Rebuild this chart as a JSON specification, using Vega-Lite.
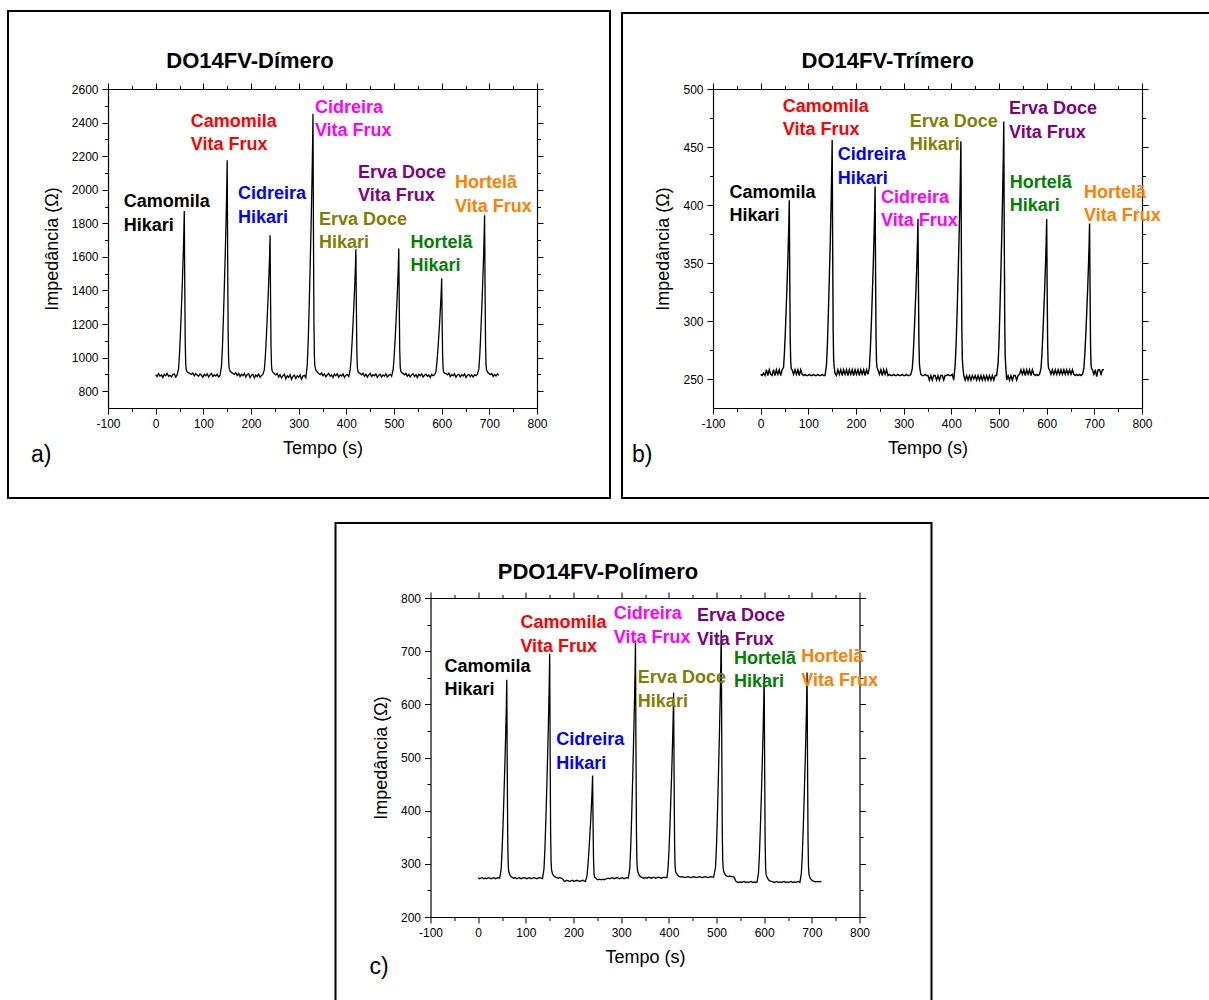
{
"$schema": "https://vega.github.io/schema/vega-lite/v6.json",
"padding": {"left": 7, "top": 9, "right": 0, "bottom": 0},
"background": "white",
"spacing": 22,
"center": true,
"config": {
  "view": {"stroke": null},
  "axis": {"labelFont": "Liberation Sans", "titleFont": "Liberation Sans", "labelFontSize": 12, "titleFontSize": 18, "titleFontWeight": "normal", "labelColor": "black", "titleColor": "black", "tickColor": "black", "domainColor": "black", "grid": false, "labelFlush": false, "labelOverlap": false, "tickWidth": 1, "domainWidth": 1.2}
},
"datasets": {
"pa": [
{"t":0,"z":898},{"t":3,"z":887},{"t":6,"z":905},{"t":9,"z":890},{"t":12,"z":897},{"t":15,"z":882},{"t":18,"z":901},{"t":21,"z":892},{"t":24,"z":906},{"t":27,"z":889},{"t":30,"z":895},{"t":33,"z":885},{"t":36,"z":900},{"t":39,"z":903},{"t":42,"z":884},{"t":45,"z":897},
{"t":48,"z":934},{"t":50,"z":1022},{"t":52,"z":1149},{"t":54,"z":1296},{"t":56,"z":1452},{"t":58,"z":1629},{"t":59,"z":1736},{"t":60,"z":1873},{"t":61,"z":1433},{"t":62,"z":1091},{"t":63,"z":963},{"t":64,"z":929},
{"t":66,"z":915},{"t":69,"z":910},{"t":72,"z":905},{"t":75,"z":900},{"t":78,"z":908},{"t":81,"z":892},{"t":84,"z":905},{"t":87,"z":897},{"t":90,"z":889},{"t":93,"z":903},{"t":96,"z":895},{"t":99,"z":883},{"t":102,"z":901},{"t":105,"z":892},{"t":108,"z":904},{"t":111,"z":885},{"t":114,"z":897},{"t":117,"z":906},{"t":120,"z":887},{"t":123,"z":898},{"t":126,"z":890},{"t":129,"z":901},{"t":132,"z":884},{"t":135,"z":895},
{"t":138,"z":946},{"t":140,"z":1061},{"t":142,"z":1228},{"t":144,"z":1420},{"t":146,"z":1625},{"t":148,"z":1855},{"t":149,"z":1996},{"t":150,"z":2175},{"t":151,"z":1599},{"t":152,"z":1151},{"t":153,"z":985},{"t":154,"z":940},
{"t":156,"z":920},{"t":159,"z":912},{"t":162,"z":906},{"t":165,"z":900},{"t":168,"z":910},{"t":171,"z":894},{"t":174,"z":906},{"t":177,"z":887},{"t":180,"z":901},{"t":183,"z":892},{"t":186,"z":907},{"t":189,"z":884},{"t":192,"z":898},{"t":195,"z":904},{"t":198,"z":881},{"t":201,"z":895},{"t":204,"z":901},{"t":207,"z":879},{"t":210,"z":897},{"t":213,"z":887},{"t":216,"z":903},{"t":219,"z":883},{"t":222,"z":894},{"t":225,"z":900},
{"t":228,"z":928},{"t":230,"z":1003},{"t":232,"z":1112},{"t":234,"z":1237},{"t":236,"z":1370},{"t":238,"z":1521},{"t":239,"z":1612},{"t":240,"z":1729},{"t":241,"z":1354},{"t":242,"z":1062},{"t":243,"z":953},{"t":244,"z":924},
{"t":246,"z":912},{"t":249,"z":905},{"t":252,"z":897},{"t":255,"z":906},{"t":258,"z":884},{"t":261,"z":898},{"t":264,"z":879},{"t":267,"z":892},{"t":270,"z":901},{"t":273,"z":873},{"t":276,"z":892},{"t":279,"z":882},{"t":282,"z":898},{"t":285,"z":870},{"t":288,"z":889},{"t":291,"z":895},{"t":294,"z":876},{"t":297,"z":892},{"t":300,"z":883},{"t":303,"z":897},{"t":306,"z":871},{"t":309,"z":890},{"t":312,"z":894},{"t":315,"z":880},
{"t":318,"z":957},{"t":320,"z":1098},{"t":322,"z":1300},{"t":324,"z":1534},{"t":326,"z":1783},{"t":328,"z":2064},{"t":329,"z":2235},{"t":330,"z":2453},{"t":331,"z":1752},{"t":332,"z":1207},{"t":333,"z":1004},{"t":334,"z":950},
{"t":336,"z":926},{"t":339,"z":914},{"t":342,"z":905},{"t":345,"z":899},{"t":348,"z":909},{"t":351,"z":892},{"t":354,"z":903},{"t":357,"z":886},{"t":360,"z":898},{"t":363,"z":906},{"t":366,"z":889},{"t":369,"z":897},{"t":372,"z":881},{"t":375,"z":901},{"t":378,"z":892},{"t":381,"z":904},{"t":384,"z":884},{"t":387,"z":897},{"t":390,"z":890},{"t":393,"z":903},{"t":396,"z":882},{"t":399,"z":895},{"t":402,"z":900},{"t":405,"z":887},
{"t":408,"z":925},{"t":410,"z":993},{"t":412,"z":1090},{"t":414,"z":1203},{"t":416,"z":1323},{"t":418,"z":1458},{"t":419,"z":1540},{"t":420,"z":1645},{"t":421,"z":1308},{"t":422,"z":1045},{"t":423,"z":948},{"t":424,"z":921},
{"t":426,"z":910},{"t":429,"z":905},{"t":432,"z":898},{"t":435,"z":907},{"t":438,"z":889},{"t":441,"z":901},{"t":444,"z":884},{"t":447,"z":897},{"t":450,"z":906},{"t":453,"z":887},{"t":456,"z":898},{"t":459,"z":892},{"t":462,"z":903},{"t":465,"z":882},{"t":468,"z":895},{"t":471,"z":901},{"t":474,"z":885},{"t":477,"z":897},{"t":480,"z":890},{"t":483,"z":903},{"t":486,"z":884},{"t":489,"z":895},{"t":492,"z":900},{"t":495,"z":889},
{"t":498,"z":925},{"t":500,"z":993},{"t":502,"z":1091},{"t":504,"z":1205},{"t":506,"z":1325},{"t":508,"z":1461},{"t":509,"z":1544},{"t":510,"z":1650},{"t":511,"z":1310},{"t":512,"z":1046},{"t":513,"z":948},{"t":514,"z":921},
{"t":516,"z":910},{"t":519,"z":906},{"t":522,"z":898},{"t":525,"z":906},{"t":528,"z":889},{"t":531,"z":900},{"t":534,"z":885},{"t":537,"z":897},{"t":540,"z":904},{"t":543,"z":887},{"t":546,"z":898},{"t":549,"z":881},{"t":552,"z":901},{"t":555,"z":892},{"t":558,"z":903},{"t":561,"z":884},{"t":564,"z":895},{"t":567,"z":901},{"t":570,"z":889},{"t":573,"z":897},{"t":576,"z":882},{"t":579,"z":900},{"t":582,"z":892},{"t":585,"z":897},
{"t":588,"z":918},{"t":590,"z":970},{"t":592,"z":1045},{"t":594,"z":1132},{"t":596,"z":1224},{"t":598,"z":1329},{"t":599,"z":1392},{"t":600,"z":1473},{"t":601,"z":1213},{"t":602,"z":1011},{"t":603,"z":935},{"t":604,"z":915},
{"t":606,"z":908},{"t":609,"z":905},{"t":612,"z":898},{"t":615,"z":907},{"t":618,"z":887},{"t":621,"z":900},{"t":624,"z":892},{"t":627,"z":904},{"t":630,"z":883},{"t":633,"z":897},{"t":636,"z":901},{"t":639,"z":885},{"t":642,"z":898},{"t":645,"z":890},{"t":648,"z":903},{"t":651,"z":881},{"t":654,"z":895},{"t":657,"z":900},{"t":660,"z":887},{"t":663,"z":897},{"t":666,"z":884},{"t":669,"z":898},{"t":672,"z":892},{"t":675,"z":901},
{"t":678,"z":933},{"t":680,"z":1019},{"t":682,"z":1143},{"t":684,"z":1286},{"t":686,"z":1438},{"t":688,"z":1610},{"t":689,"z":1715},{"t":690,"z":1848},{"t":691,"z":1419},{"t":692,"z":1086},{"t":693,"z":962},{"t":694,"z":928},
{"t":696,"z":914},{"t":699,"z":906},{"t":702,"z":899},{"t":705,"z":906},{"t":708,"z":888},{"t":711,"z":900},{"t":714,"z":891},{"t":717,"z":903},{"t":720,"z":895}
],
"pb": [
{"t":0,"z":254},{"t":3,"z":253},{"t":6,"z":255},{"t":9,"z":253},{"t":12,"z":258},{"t":15,"z":253},{"t":18,"z":258},{"t":21,"z":254},{"t":24,"z":253},{"t":27,"z":258},{"t":30,"z":253},{"t":33,"z":258},{"t":36,"z":254},{"t":39,"z":258},{"t":42,"z":253},{"t":45,"z":258},
{"t":48,"z":260},{"t":50,"z":274},{"t":52,"z":293},{"t":54,"z":316},{"t":56,"z":340},{"t":58,"z":367},{"t":59,"z":383},{"t":60,"z":404},{"t":61,"z":337},{"t":62,"z":284},{"t":63,"z":265},{"t":64,"z":259},
{"t":66,"z":258},{"t":69,"z":254},{"t":72,"z":258},{"t":75,"z":254},{"t":78,"z":258},{"t":81,"z":253},{"t":84,"z":258},{"t":87,"z":254},{"t":90,"z":253},{"t":93,"z":254},{"t":96,"z":253},{"t":99,"z":253},{"t":102,"z":254},{"t":105,"z":253},{"t":108,"z":253},{"t":111,"z":254},{"t":114,"z":253},{"t":117,"z":253},{"t":120,"z":254},{"t":123,"z":253},{"t":126,"z":253},{"t":129,"z":254},{"t":132,"z":253},{"t":135,"z":253},
{"t":138,"z":262},{"t":140,"z":280},{"t":142,"z":307},{"t":144,"z":337},{"t":146,"z":369},{"t":148,"z":406},{"t":149,"z":428},{"t":150,"z":456},{"t":151,"z":365},{"t":152,"z":294},{"t":153,"z":268},{"t":154,"z":261},
{"t":156,"z":255},{"t":159,"z":253},{"t":162,"z":258},{"t":165,"z":254},{"t":168,"z":258},{"t":171,"z":253},{"t":174,"z":258},{"t":177,"z":254},{"t":180,"z":258},{"t":183,"z":253},{"t":186,"z":258},{"t":189,"z":254},{"t":192,"z":258},{"t":195,"z":253},{"t":198,"z":258},{"t":201,"z":254},{"t":204,"z":258},{"t":207,"z":253},{"t":210,"z":258},{"t":213,"z":254},{"t":216,"z":258},{"t":219,"z":253},{"t":222,"z":258},{"t":225,"z":254},
{"t":228,"z":260},{"t":230,"z":275},{"t":232,"z":296},{"t":234,"z":320},{"t":236,"z":346},{"t":238,"z":376},{"t":239,"z":393},{"t":240,"z":416},{"t":241,"z":343},{"t":242,"z":286},{"t":243,"z":265},{"t":244,"z":260},
{"t":246,"z":258},{"t":249,"z":254},{"t":252,"z":258},{"t":255,"z":253},{"t":258,"z":258},{"t":261,"z":254},{"t":264,"z":258},{"t":267,"z":253},{"t":270,"z":254},{"t":273,"z":253},{"t":276,"z":253},{"t":279,"z":254},{"t":282,"z":253},{"t":285,"z":253},{"t":288,"z":254},{"t":291,"z":253},{"t":294,"z":253},{"t":297,"z":254},{"t":300,"z":253},{"t":303,"z":253},{"t":306,"z":254},{"t":309,"z":253},{"t":312,"z":253},{"t":315,"z":254},
{"t":318,"z":259},{"t":320,"z":271},{"t":322,"z":289},{"t":324,"z":309},{"t":326,"z":330},{"t":328,"z":354},{"t":329,"z":369},{"t":330,"z":388},{"t":331,"z":328},{"t":332,"z":281},{"t":333,"z":263},{"t":334,"z":259},
{"t":336,"z":254},{"t":339,"z":253},{"t":342,"z":253},{"t":345,"z":254},{"t":348,"z":253},{"t":351,"z":253},{"t":354,"z":249},{"t":357,"z":253},{"t":360,"z":249},{"t":363,"z":253},{"t":366,"z":253},{"t":369,"z":249},{"t":372,"z":253},{"t":375,"z":249},{"t":378,"z":253},{"t":381,"z":253},{"t":384,"z":249},{"t":387,"z":253},{"t":390,"z":253},{"t":393,"z":254},{"t":396,"z":253},{"t":399,"z":253},{"t":402,"z":254},{"t":405,"z":249},
{"t":408,"z":262},{"t":410,"z":280},{"t":412,"z":306},{"t":414,"z":336},{"t":416,"z":369},{"t":418,"z":405},{"t":419,"z":427},{"t":420,"z":455},{"t":421,"z":365},{"t":422,"z":294},{"t":423,"z":268},{"t":424,"z":261},
{"t":426,"z":253},{"t":429,"z":249},{"t":432,"z":253},{"t":435,"z":249},{"t":438,"z":253},{"t":441,"z":249},{"t":444,"z":253},{"t":447,"z":250},{"t":450,"z":253},{"t":453,"z":249},{"t":456,"z":253},{"t":459,"z":249},{"t":462,"z":253},{"t":465,"z":249},{"t":468,"z":253},{"t":471,"z":249},{"t":474,"z":253},{"t":477,"z":249},{"t":480,"z":253},{"t":483,"z":249},{"t":486,"z":253},{"t":489,"z":249},{"t":492,"z":253},{"t":495,"z":253},
{"t":498,"z":263},{"t":500,"z":282},{"t":502,"z":311},{"t":504,"z":343},{"t":506,"z":378},{"t":508,"z":418},{"t":509,"z":441},{"t":510,"z":472},{"t":511,"z":374},{"t":512,"z":298},{"t":513,"z":269},{"t":514,"z":262},
{"t":516,"z":249},{"t":519,"z":253},{"t":522,"z":249},{"t":525,"z":253},{"t":528,"z":249},{"t":531,"z":253},{"t":534,"z":253},{"t":537,"z":249},{"t":540,"z":253},{"t":543,"z":254},{"t":546,"z":258},{"t":549,"z":254},{"t":552,"z":258},{"t":555,"z":253},{"t":558,"z":258},{"t":561,"z":254},{"t":564,"z":258},{"t":567,"z":253},{"t":570,"z":258},{"t":573,"z":254},{"t":576,"z":253},{"t":579,"z":254},{"t":582,"z":253},{"t":585,"z":254},
{"t":588,"z":259},{"t":590,"z":271},{"t":592,"z":289},{"t":594,"z":309},{"t":596,"z":330},{"t":598,"z":354},{"t":599,"z":369},{"t":600,"z":388},{"t":601,"z":328},{"t":602,"z":281},{"t":603,"z":263},{"t":604,"z":259},
{"t":606,"z":258},{"t":609,"z":254},{"t":612,"z":258},{"t":615,"z":254},{"t":618,"z":258},{"t":621,"z":254},{"t":624,"z":258},{"t":627,"z":254},{"t":630,"z":258},{"t":633,"z":254},{"t":636,"z":258},{"t":639,"z":254},{"t":642,"z":258},{"t":645,"z":254},{"t":648,"z":258},{"t":651,"z":254},{"t":654,"z":258},{"t":657,"z":254},{"t":660,"z":253},{"t":663,"z":254},{"t":666,"z":253},{"t":669,"z":254},{"t":672,"z":253},{"t":675,"z":254},
{"t":678,"z":259},{"t":680,"z":271},{"t":682,"z":288},{"t":684,"z":307},{"t":686,"z":328},{"t":688,"z":352},{"t":689,"z":366},{"t":690,"z":384},{"t":691,"z":326},{"t":692,"z":280},{"t":693,"z":263},{"t":694,"z":259},
{"t":696,"z":258},{"t":699,"z":254},{"t":702,"z":258},{"t":705,"z":252},{"t":708,"z":258},{"t":711,"z":258},{"t":714,"z":254},{"t":717,"z":258},{"t":720,"z":258}
],
"pc": [
{"t":0,"z":274},{"t":3,"z":272},{"t":6,"z":273},{"t":9,"z":274},{"t":12,"z":272},{"t":15,"z":273},{"t":18,"z":272},{"t":21,"z":274},{"t":24,"z":273},{"t":27,"z":272},{"t":30,"z":273},{"t":33,"z":274},{"t":36,"z":272},{"t":39,"z":273},{"t":42,"z":274},{"t":45,"z":273},
{"t":48,"z":288},{"t":50,"z":322},{"t":52,"z":370},{"t":54,"z":426},{"t":56,"z":486},{"t":58,"z":553},{"t":59,"z":594},{"t":60,"z":646},{"t":61,"z":478},{"t":62,"z":348},{"t":63,"z":299},{"t":64,"z":286},
{"t":66,"z":280},{"t":69,"z":276},{"t":72,"z":274},{"t":75,"z":273},{"t":78,"z":274},{"t":81,"z":272},{"t":84,"z":273},{"t":87,"z":274},{"t":90,"z":272},{"t":93,"z":273},{"t":96,"z":274},{"t":99,"z":273},{"t":102,"z":272},{"t":105,"z":273},{"t":108,"z":274},{"t":111,"z":272},{"t":114,"z":273},{"t":117,"z":274},{"t":120,"z":273},{"t":123,"z":272},{"t":126,"z":273},{"t":129,"z":274},{"t":132,"z":273},{"t":135,"z":272},
{"t":138,"z":290},{"t":140,"z":328},{"t":142,"z":383},{"t":144,"z":446},{"t":146,"z":514},{"t":148,"z":590},{"t":149,"z":636},{"t":150,"z":695},{"t":151,"z":505},{"t":152,"z":357},{"t":153,"z":303},{"t":154,"z":288},
{"t":156,"z":281},{"t":159,"z":277},{"t":162,"z":275},{"t":165,"z":274},{"t":168,"z":273},{"t":171,"z":274},{"t":174,"z":273},{"t":177,"z":272},{"t":180,"z":268},{"t":183,"z":267},{"t":186,"z":269},{"t":189,"z":268},{"t":192,"z":267},{"t":195,"z":268},{"t":198,"z":269},{"t":201,"z":267},{"t":204,"z":268},{"t":207,"z":269},{"t":210,"z":268},{"t":213,"z":267},{"t":216,"z":268},{"t":219,"z":269},{"t":222,"z":268},{"t":225,"z":267},
{"t":228,"z":276},{"t":230,"z":294},{"t":232,"z":320},{"t":234,"z":349},{"t":236,"z":381},{"t":238,"z":417},{"t":239,"z":438},{"t":240,"z":466},{"t":241,"z":377},{"t":242,"z":308},{"t":243,"z":282},{"t":244,"z":275},
{"t":246,"z":274},{"t":249,"z":271},{"t":252,"z":270},{"t":255,"z":271},{"t":258,"z":270},{"t":261,"z":271},{"t":264,"z":270},{"t":267,"z":271},{"t":270,"z":272},{"t":273,"z":273},{"t":276,"z":272},{"t":279,"z":273},{"t":282,"z":274},{"t":285,"z":272},{"t":288,"z":273},{"t":291,"z":274},{"t":294,"z":273},{"t":297,"z":272},{"t":300,"z":273},{"t":303,"z":274},{"t":306,"z":272},{"t":309,"z":273},{"t":312,"z":274},{"t":315,"z":273},
{"t":318,"z":291},{"t":320,"z":331},{"t":322,"z":389},{"t":324,"z":456},{"t":326,"z":528},{"t":328,"z":608},{"t":329,"z":657},{"t":330,"z":720},{"t":331,"z":519},{"t":332,"z":362},{"t":333,"z":304},{"t":334,"z":289},
{"t":336,"z":282},{"t":339,"z":277},{"t":342,"z":275},{"t":345,"z":274},{"t":348,"z":273},{"t":351,"z":274},{"t":354,"z":273},{"t":357,"z":275},{"t":360,"z":274},{"t":363,"z":273},{"t":366,"z":274},{"t":369,"z":275},{"t":372,"z":273},{"t":375,"z":274},{"t":378,"z":275},{"t":381,"z":274},{"t":384,"z":273},{"t":387,"z":274},{"t":390,"z":275},{"t":393,"z":274},{"t":396,"z":274},
{"t":398,"z":288},{"t":400,"z":319},{"t":402,"z":364},{"t":404,"z":417},{"t":406,"z":472},{"t":408,"z":535},{"t":409,"z":573},{"t":410,"z":622},{"t":411,"z":465},{"t":412,"z":344},{"t":413,"z":298},{"t":414,"z":286},
{"t":416,"z":282},{"t":419,"z":278},{"t":422,"z":276},{"t":425,"z":275},{"t":428,"z":276},{"t":431,"z":275},{"t":434,"z":274},{"t":437,"z":275},{"t":440,"z":276},{"t":443,"z":275},{"t":446,"z":274},{"t":449,"z":275},{"t":452,"z":276},{"t":455,"z":275},{"t":458,"z":274},{"t":461,"z":275},{"t":464,"z":276},{"t":467,"z":275},{"t":470,"z":274},{"t":473,"z":275},{"t":476,"z":276},{"t":479,"z":275},{"t":482,"z":274},{"t":485,"z":275},{"t":488,"z":276},{"t":491,"z":275},{"t":494,"z":275},
{"t":498,"z":294},{"t":500,"z":335},{"t":502,"z":396},{"t":504,"z":466},{"t":506,"z":540},{"t":508,"z":624},{"t":509,"z":675},{"t":510,"z":740},{"t":511,"z":531},{"t":512,"z":368},{"t":513,"z":308},{"t":514,"z":291},
{"t":516,"z":283},{"t":519,"z":279},{"t":522,"z":277},{"t":525,"z":276},{"t":528,"z":277},{"t":531,"z":276},{"t":534,"z":276},{"t":537,"z":275},{"t":540,"z":268},{"t":543,"z":266},{"t":546,"z":265},{"t":549,"z":266},{"t":552,"z":265},{"t":555,"z":266},{"t":558,"z":267},{"t":561,"z":265},{"t":564,"z":266},{"t":567,"z":265},{"t":570,"z":266},{"t":573,"z":267},{"t":576,"z":265},{"t":579,"z":266},{"t":582,"z":265},{"t":585,"z":266},
{"t":588,"z":282},{"t":590,"z":317},{"t":592,"z":368},{"t":594,"z":426},{"t":596,"z":489},{"t":598,"z":559},{"t":599,"z":602},{"t":600,"z":657},{"t":601,"z":481},{"t":602,"z":344},{"t":603,"z":293},{"t":604,"z":280},
{"t":606,"z":275},{"t":609,"z":270},{"t":612,"z":268},{"t":615,"z":267},{"t":618,"z":266},{"t":621,"z":265},{"t":624,"z":266},{"t":627,"z":267},{"t":630,"z":265},{"t":633,"z":266},{"t":636,"z":265},{"t":639,"z":266},{"t":642,"z":267},{"t":645,"z":265},{"t":648,"z":266},{"t":651,"z":265},{"t":654,"z":266},{"t":657,"z":267},{"t":660,"z":265},{"t":663,"z":266},{"t":666,"z":265},{"t":669,"z":266},{"t":672,"z":267},{"t":675,"z":265},
{"t":678,"z":282},{"t":680,"z":317},{"t":682,"z":368},{"t":684,"z":428},{"t":686,"z":491},{"t":688,"z":562},{"t":689,"z":605},{"t":690,"z":660},{"t":691,"z":483},{"t":692,"z":345},{"t":693,"z":294},{"t":694,"z":280},
{"t":696,"z":274},{"t":699,"z":270},{"t":702,"z":268},{"t":705,"z":267},{"t":708,"z":266},{"t":711,"z":267},{"t":714,"z":266},{"t":717,"z":267},{"t":720,"z":266}
],
"na": [
{"s":"Camomila Hikari","l":"Camomila\nHikari","x":-67,"y":1897},
{"s":"Camomila Vita Frux","l":"Camomila\nVita Frux","x":73.5,"y":2374},
{"s":"Cidreira Hikari","l":"Cidreira\nHikari","x":172.7,"y":1943},
{"s":"Cidreira Vita Frux","l":"Cidreira\nVita Frux","x":334,"y":2459},
{"s":"Erva Doce Hikari","l":"Erva Doce\nHikari","x":342.6,"y":1790},
{"s":"Erva Doce Vita Frux","l":"Erva Doce\nVita Frux","x":424.5,"y":2072},
{"s":"Hortelã Hikari","l":"Hortelã\nHikari","x":534.6,"y":1655},
{"s":"Hortelã Vita Frux","l":"Hortelã\nVita Frux","x":628,"y":2009}
],
"nb": [
{"s":"Camomila Hikari","l":"Camomila\nHikari","x":-65.6,"y":406.3},
{"s":"Camomila Vita Frux","l":"Camomila\nVita Frux","x":46.4,"y":480.2},
{"s":"Cidreira Hikari","l":"Cidreira\nHikari","x":161.6,"y":438.5},
{"s":"Cidreira Vita Frux","l":"Cidreira\nVita Frux","x":252.4,"y":402},
{"s":"Erva Doce Hikari","l":"Erva Doce\nHikari","x":312.6,"y":467.5},
{"s":"Erva Doce Vita Frux","l":"Erva Doce\nVita Frux","x":521,"y":478.2},
{"s":"Hortelã Hikari","l":"Hortelã\nHikari","x":522.4,"y":414.9},
{"s":"Hortelã Vita Frux","l":"Hortelã\nVita Frux","x":678.3,"y":406.3}
],
"nc": [
{"s":"Camomila Hikari","l":"Camomila\nHikari","x":-70.6,"y":661.4},
{"s":"Camomila Vita Frux","l":"Camomila\nVita Frux","x":88.6,"y":743},
{"s":"Cidreira Hikari","l":"Cidreira\nHikari","x":163.7,"y":523.5},
{"s":"Cidreira Vita Frux","l":"Cidreira\nVita Frux","x":284.5,"y":760},
{"s":"Erva Doce Hikari","l":"Erva Doce\nHikari","x":335,"y":639.6},
{"s":"Erva Doce Vita Frux","l":"Erva Doce\nVita Frux","x":459,"y":756.7},
{"s":"Hortelã Hikari","l":"Hortelã\nHikari","x":536.7,"y":675.9},
{"s":"Hortelã Vita Frux","l":"Hortelã\nVita Frux","x":677.8,"y":679}
]
},
"vconcat": [
{"spacing": 10, "hconcat": [
{
"width": 429, "height": 319,
"resolve": {"axis": {"x": "independent", "y": "independent"}},
"layer": [
{"data": {"values": [{}]}, "mark": {"type": "rect", "filled": false, "stroke": "black", "strokeWidth": 2},
 "encoding": {
  "x": {"datum": -309.8, "type": "quantitative", "scale": {"domain": [-100, 800], "nice": false, "zero": false}, "axis": {"orient": "top", "values": [-100,0,100,200,300,400,500,600,700,800], "tickSize": 6, "labels": false, "title": null}},
  "x2": {"datum": 953.1},
  "y": {"datum": 3064.6, "type": "quantitative", "scale": {"domain": [700, 2600], "nice": false, "zero": false}, "axis": {"orient": "right", "values": [800,1000,1200,1400,1600,1800,2000,2200,2400,2600], "tickSize": 6, "labels": false, "title": null}},
  "y2": {"datum": 164}
 }},
{"data": {"name": "pa"}, "mark": {"type": "line", "color": "black", "strokeWidth": 1.3},
 "encoding": {
  "x": {"field": "t", "type": "quantitative", "scale": {"domain": [-100, 800], "nice": false, "zero": false}, "axis": {"orient": "bottom", "values": [-100,0,100,200,300,400,500,600,700,800], "tickSize": 6, "labelPadding": 4, "labelExpr": "'' + datum.value", "title": "Tempo (s)", "titlePadding": 10}},
  "y": {"field": "z", "type": "quantitative", "scale": {"domain": [700, 2600], "nice": false, "zero": false}, "axis": {"orient": "left", "values": [800,1000,1200,1400,1600,1800,2000,2200,2400,2600], "tickSize": 6, "labelPadding": 4, "labelExpr": "'' + datum.value", "title": "Impedância (Ω)", "titlePadding": 10}}
 }},
{"data": {"name": "na"}, "mark": {"type": "text", "align": "left", "baseline": "alphabetic", "font": "Liberation Sans", "fontSize": 18, "fontWeight": "bold", "lineBreak": "\n", "lineHeight": 23.5},
 "encoding": {
  "x": {"field": "x", "type": "quantitative", "scale": {"domain": [-100, 800], "nice": false, "zero": false}, "axis": {"orient": "bottom", "values": [-50,50,150,250,350,450,550,650,750], "tickSize": 3.5, "labels": false, "domain": false, "title": null}},
  "y": {"field": "y", "type": "quantitative", "scale": {"domain": [700, 2600], "nice": false, "zero": false}, "axis": {"orient": "left", "values": [900,1100,1300,1500,1700,1900,2100,2300,2500], "tickSize": 3.5, "labels": false, "domain": false, "title": null}},
  "text": {"field": "l"},
  "color": {"field": "s", "type": "nominal", "legend": null, "scale": {"domain": ["Camomila Hikari","Camomila Vita Frux","Cidreira Hikari","Cidreira Vita Frux","Erva Doce Hikari","Erva Doce Vita Frux","Hortelã Hikari","Hortelã Vita Frux"], "range": ["#000000","#FF0000","#0000FF","#FF00FF","#808000","#800080","#008000","#FF8000"]}}
 }},
{"data": {"values": [{}]}, "mark": {"type": "text", "align": "center", "baseline": "alphabetic", "font": "Liberation Sans", "fontSize": 22, "fontWeight": "bold", "text": "DO14FV-Dímero", "color": "black"},
 "encoding": {
  "x": {"datum": 198, "type": "quantitative", "scale": {"domain": [-100, 800], "nice": false, "zero": false}, "axis": {"orient": "top", "values": [-50,50,150,250,350,450,550,650,750], "tickSize": 3.5, "labels": false, "domain": false, "title": null}},
  "y": {"datum": 2725, "type": "quantitative", "scale": {"domain": [700, 2600], "nice": false, "zero": false}, "axis": {"orient": "right", "values": [900,1100,1300,1500,1700,1900,2100,2300,2500], "tickSize": 3.5, "labels": false, "domain": false, "title": null}}
 }},
{"data": {"values": [{}]}, "mark": {"type": "text", "align": "left", "baseline": "alphabetic", "font": "Liberation Sans", "fontSize": 23, "text": "a)", "color": "black"},
 "encoding": {
  "x": {"datum": -261.5, "type": "quantitative", "scale": {"domain": [-100, 800], "nice": false, "zero": false}, "axis": null},
  "y": {"datum": 378.4, "type": "quantitative", "scale": {"domain": [700, 2600], "nice": false, "zero": false}, "axis": null}
 }}
]
},
{
"width": 429, "height": 319,
"resolve": {"axis": {"x": "independent", "y": "independent"}},
"layer": [
{"data": {"values": [{}]}, "mark": {"type": "rect", "filled": false, "stroke": "black", "strokeWidth": 2},
 "encoding": {
  "x": {"datum": -290.9, "type": "quantitative", "scale": {"domain": [-100, 800], "nice": false, "zero": false}, "axis": {"orient": "top", "values": [-100,0,100,200,300,400,500,600,700,800], "tickSize": 6, "labels": false, "title": null}},
  "x2": {"datum": 1034.9},
  "y": {"datum": 565.5, "type": "quantitative", "scale": {"domain": [225, 500], "nice": false, "zero": false}, "axis": {"orient": "right", "values": [250,300,350,400,450,500], "tickSize": 6, "labels": false, "title": null}},
  "y2": {"datum": 147.4}
 }},
{"data": {"name": "pb"}, "mark": {"type": "line", "color": "black", "strokeWidth": 1.4},
 "encoding": {
  "x": {"field": "t", "type": "quantitative", "scale": {"domain": [-100, 800], "nice": false, "zero": false}, "axis": {"orient": "bottom", "values": [-100,0,100,200,300,400,500,600,700,800], "tickSize": 6, "labelPadding": 4, "labelExpr": "'' + datum.value", "title": "Tempo (s)", "titlePadding": 10}},
  "y": {"field": "z", "type": "quantitative", "scale": {"domain": [225, 500], "nice": false, "zero": false}, "axis": {"orient": "left", "values": [250,300,350,400,450,500], "tickSize": 6, "labelPadding": 4, "labelExpr": "'' + datum.value", "title": "Impedância (Ω)", "titlePadding": 10}}
 }},
{"data": {"name": "nb"}, "mark": {"type": "text", "align": "left", "baseline": "alphabetic", "font": "Liberation Sans", "fontSize": 18, "fontWeight": "bold", "lineBreak": "\n", "lineHeight": 23.5},
 "encoding": {
  "x": {"field": "x", "type": "quantitative", "scale": {"domain": [-100, 800], "nice": false, "zero": false}, "axis": {"orient": "bottom", "values": [-50,50,150,250,350,450,550,650,750], "tickSize": 3.5, "labels": false, "domain": false, "title": null}},
  "y": {"field": "y", "type": "quantitative", "scale": {"domain": [225, 500], "nice": false, "zero": false}, "axis": {"orient": "left", "values": [275,325,375,425,475], "tickSize": 3.5, "labels": false, "domain": false, "title": null}},
  "text": {"field": "l"},
  "color": {"field": "s", "type": "nominal", "legend": null, "scale": {"domain": ["Camomila Hikari","Camomila Vita Frux","Cidreira Hikari","Cidreira Vita Frux","Erva Doce Hikari","Erva Doce Vita Frux","Hortelã Hikari","Hortelã Vita Frux"], "range": ["#000000","#FF0000","#0000FF","#FF00FF","#808000","#800080","#008000","#FF8000"]}}
 }},
{"data": {"values": [{}]}, "mark": {"type": "text", "align": "center", "baseline": "alphabetic", "font": "Liberation Sans", "fontSize": 22, "fontWeight": "bold", "text": "DO14FV-Trímero", "color": "black"},
 "encoding": {
  "x": {"datum": 266.5, "type": "quantitative", "scale": {"domain": [-100, 800], "nice": false, "zero": false}, "axis": {"orient": "top", "values": [-50,50,150,250,350,450,550,650,750], "tickSize": 3.5, "labels": false, "domain": false, "title": null}},
  "y": {"datum": 518.4, "type": "quantitative", "scale": {"domain": [225, 500], "nice": false, "zero": false}, "axis": {"orient": "right", "values": [275,325,375,425,475], "tickSize": 3.5, "labels": false, "domain": false, "title": null}}
 }},
{"data": {"values": [{}]}, "mark": {"type": "text", "align": "left", "baseline": "alphabetic", "font": "Liberation Sans", "fontSize": 23, "text": "b)", "color": "black"},
 "encoding": {
  "x": {"datum": -269.9, "type": "quantitative", "scale": {"domain": [-100, 800], "nice": false, "zero": false}, "axis": null},
  "y": {"datum": 178.4, "type": "quantitative", "scale": {"domain": [225, 500], "nice": false, "zero": false}, "axis": null}
 }}
]
}
]},
{
"width": 429, "height": 319,
"resolve": {"axis": {"x": "independent", "y": "independent"}},
"layer": [
{"data": {"values": [{}]}, "mark": {"type": "rect", "filled": false, "stroke": "black", "strokeWidth": 2},
 "encoding": {
  "x": {"datum": -299.3, "type": "quantitative", "scale": {"domain": [-100, 800], "nice": false, "zero": false}, "axis": {"orient": "top", "values": [-100,0,100,200,300,400,500,600,700,800], "tickSize": 6, "labels": false, "title": null}},
  "x2": {"datum": 951},
  "y": {"datum": 941, "type": "quantitative", "scale": {"domain": [200, 800], "nice": false, "zero": false}, "axis": {"orient": "right", "values": [200,300,400,500,600,700,800], "tickSize": 6, "labels": false, "title": null}},
  "y2": {"datum": 40.1}
 }},
{"data": {"name": "pc"}, "mark": {"type": "line", "color": "black", "strokeWidth": 1.3},
 "encoding": {
  "x": {"field": "t", "type": "quantitative", "scale": {"domain": [-100, 800], "nice": false, "zero": false}, "axis": {"orient": "bottom", "values": [-100,0,100,200,300,400,500,600,700,800], "tickSize": 6, "labelPadding": 4, "labelExpr": "'' + datum.value", "title": "Tempo (s)", "titlePadding": 10}},
  "y": {"field": "z", "type": "quantitative", "scale": {"domain": [200, 800], "nice": false, "zero": false}, "axis": {"orient": "left", "values": [200,300,400,500,600,700,800], "tickSize": 6, "labelPadding": 4, "labelExpr": "'' + datum.value", "title": "Impedância (Ω)", "titlePadding": 10}}
 }},
{"data": {"name": "nc"}, "mark": {"type": "text", "align": "left", "baseline": "alphabetic", "font": "Liberation Sans", "fontSize": 18, "fontWeight": "bold", "lineBreak": "\n", "lineHeight": 23.5},
 "encoding": {
  "x": {"field": "x", "type": "quantitative", "scale": {"domain": [-100, 800], "nice": false, "zero": false}, "axis": {"orient": "bottom", "values": [-50,50,150,250,350,450,550,650,750], "tickSize": 3.5, "labels": false, "domain": false, "title": null}},
  "y": {"field": "y", "type": "quantitative", "scale": {"domain": [200, 800], "nice": false, "zero": false}, "axis": {"orient": "left", "values": [250,350,450,550,650,750], "tickSize": 3.5, "labels": false, "domain": false, "title": null}},
  "text": {"field": "l"},
  "color": {"field": "s", "type": "nominal", "legend": null, "scale": {"domain": ["Camomila Hikari","Camomila Vita Frux","Cidreira Hikari","Cidreira Vita Frux","Erva Doce Hikari","Erva Doce Vita Frux","Hortelã Hikari","Hortelã Vita Frux"], "range": ["#000000","#FF0000","#0000FF","#FF00FF","#808000","#800080","#008000","#FF8000"]}}
 }},
{"data": {"values": [{}]}, "mark": {"type": "text", "align": "center", "baseline": "alphabetic", "font": "Liberation Sans", "fontSize": 22, "fontWeight": "bold", "text": "PDO14FV-Polímero", "color": "black"},
 "encoding": {
  "x": {"datum": 251.4, "type": "quantitative", "scale": {"domain": [-100, 800], "nice": false, "zero": false}, "axis": {"orient": "top", "values": [-50,50,150,250,350,450,550,650,750], "tickSize": 3.5, "labels": false, "domain": false, "title": null}},
  "y": {"datum": 835.2, "type": "quantitative", "scale": {"domain": [200, 800], "nice": false, "zero": false}, "axis": {"orient": "right", "values": [250,350,450,550,650,750], "tickSize": 3.5, "labels": false, "domain": false, "title": null}}
 }},
{"data": {"values": [{}]}, "mark": {"type": "text", "align": "left", "baseline": "alphabetic", "font": "Liberation Sans", "fontSize": 23, "text": "c)", "color": "black"},
 "encoding": {
  "x": {"datum": -228, "type": "quantitative", "scale": {"domain": [-100, 800], "nice": false, "zero": false}, "axis": null},
  "y": {"datum": 92.8, "type": "quantitative", "scale": {"domain": [200, 800], "nice": false, "zero": false}, "axis": null}
 }}
]
}
]
}
